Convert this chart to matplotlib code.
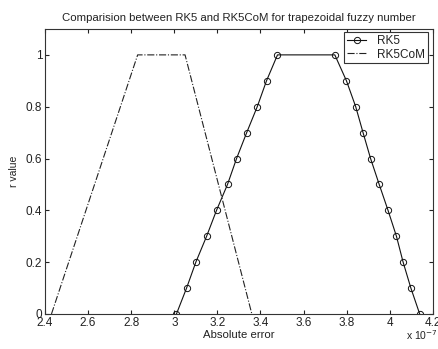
import matplotlib
matplotlib.use("Agg")
import matplotlib.pyplot as plt

plt.rcParams['font.family'] = ['Liberation Sans', 'DejaVu Sans']

# absolute error (x 1e-7) and r value
rk5_x = [3.01, 3.057, 3.10, 3.15, 3.196, 3.247, 3.289, 3.336, 3.385, 3.428, 3.479,
         3.745, 3.799, 3.842, 3.876, 3.911, 3.951, 3.992, 4.031, 4.062, 4.098, 4.139]
rk5_r = [0, 0.1, 0.2, 0.3, 0.4, 0.5, 0.6, 0.7, 0.8, 0.9, 1.0,
         1.0, 0.9, 0.8, 0.7, 0.6, 0.5, 0.4, 0.3, 0.2, 0.1, 0]

com_x = [2.43, 2.83, 3.05, 3.36]
com_r = [0, 1, 1, 0]

xticks = [2.4, 2.6, 2.8, 3.0, 3.2, 3.4, 3.6, 3.8, 4.0, 4.2]
xticklabels = ['2.4', '2.6', '2.8', '3', '3.2', '3.4', '3.6', '3.8', '4', '4.2']
yticks = [0, 0.2, 0.4, 0.6, 0.8, 1]
yticklabels = ['0', '0.2', '0.4', '0.6', '0.8', '1']

txt = '#222222'
fig = plt.figure(figsize=(4.39, 3.49), dpi=100, facecolor='white')
ax = fig.add_axes([0.1025, 0.1003, 0.8835, 0.8167])

ax.plot(rk5_x, rk5_r, '-o', color='#111111', lw=0.8, markersize=4.5,
        markerfacecolor='none', markeredgewidth=0.7, label='RK5')
ax.plot(com_x, com_r, '-.', color='#222222', lw=0.8, label='RK5CoM')

ax.set_xlim(2.4, 4.2)
ax.set_ylim(0, 1.1)
ax.set_xticks(xticks)
ax.set_xticklabels(xticklabels)
ax.set_yticks(yticks)
ax.set_yticklabels(yticklabels)
ax.tick_params(direction='in', top=True, right=True, labelsize=8.5, length=3,
               pad=2, colors=txt)
for s in ax.spines.values():
    s.set_linewidth(0.8)
    s.set_color('#333333')

ax.set_title("Comparision between RK5 and RK5CoM for trapezoidal fuzzy number",
             fontsize=8.2, pad=6, color=txt)
ax.set_xlabel("Absolute error", fontsize=8.2, labelpad=1, color=txt)
ax.set_ylabel("r value", fontsize=7.5, labelpad=5, color=txt)
fig.text(0.925, 0.025, r"x 10$^{-7}$", fontsize=7.5, color=txt)

leg = ax.legend(loc='upper right', bbox_to_anchor=(0.987, 0.99), fontsize=8.5,
                fancybox=False, framealpha=1, edgecolor='#333333',
                borderpad=0.25, handlelength=1.6, handletextpad=0.9,
                labelspacing=0.15, borderaxespad=0)
leg.get_frame().set_linewidth(0.8)
for t in leg.get_texts():
    t.set_color(txt)

fig.savefig("out.png", dpi=100)
